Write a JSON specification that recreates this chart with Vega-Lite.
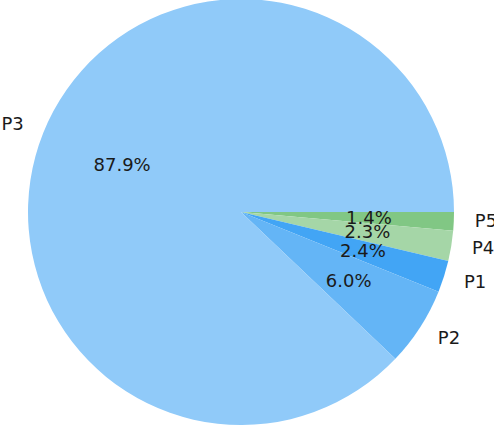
{
  "$schema": "https://vega.github.io/schema/vega-lite/v6.json",
  "autosize": "none",
  "width": 482,
  "height": 424,
  "padding": {"left": 0, "top": 0, "right": 12, "bottom": 2},
  "background": "white",
  "config": {"view": {"stroke": null}},
  "data": {"values": [
    {"name": "P5", "pct": 1.4, "label": "1.4%", "rank": 1},
    {"name": "P4", "pct": 2.3, "label": "2.3%", "rank": 2},
    {"name": "P1", "pct": 2.4, "label": "2.4%", "rank": 3},
    {"name": "P2", "pct": 6.0, "label": "6.0%", "rank": 4},
    {"name": "P3", "pct": 87.9, "label": "87.9%", "rank": 5}
  ]},
  "encoding": {
    "theta": {"field": "pct", "type": "quantitative", "stack": true, "scale": {"range": [1.5707963, 7.8539816]}},
    "order": {"field": "rank", "type": "quantitative"}
  },
  "layer": [
    {
      "mark": {"type": "arc", "outerRadius": 213, "stroke": null},
      "encoding": {
        "color": {"field": "name", "type": "nominal", "legend": null,
          "scale": {"domain": ["P5", "P4", "P1", "P2", "P3"], "range": ["#81C784", "#A5D6A7", "#42A5F5", "#64B5F6", "#90CAF9"]}}
      }
    },
    {
      "mark": {"type": "text", "radius": 128, "font": "DejaVu Sans", "fontSize": 18, "color": "#1a1a1a", "align": "center", "baseline": "middle", "dy": 1},
      "encoding": {"text": {"field": "label"}}
    },
    {
      "mark": {"type": "text", "radius": 234, "font": "DejaVu Sans", "fontSize": 18, "color": "#1a1a1a", "align": "left", "baseline": "middle"},
      "encoding": {"text": {"condition": {"test": "datum.name == 'P3'", "value": ""}, "field": "name"}}
    },
    {
      "mark": {"type": "text", "radius": 234, "font": "DejaVu Sans", "fontSize": 18, "color": "#1a1a1a", "align": "right", "baseline": "middle"},
      "encoding": {"text": {"condition": {"test": "datum.name != 'P3'", "value": ""}, "field": "name"}}
    }
  ]
}
